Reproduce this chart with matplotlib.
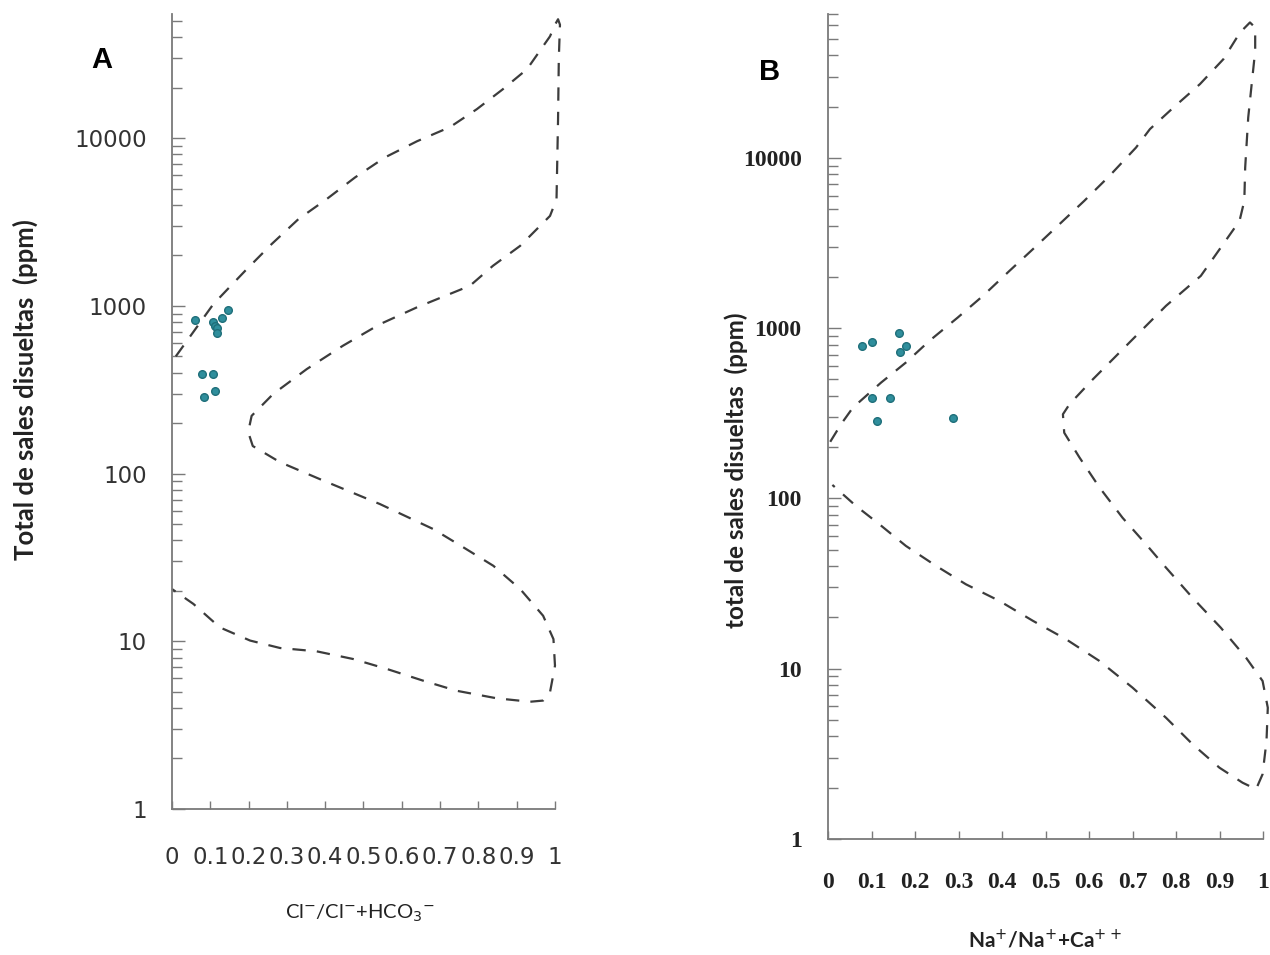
import numpy as np
import matplotlib
matplotlib.use("Agg")
import matplotlib.pyplot as plt
from matplotlib.ticker import FixedLocator, LogLocator, NullFormatter

plt.rcParams['font.family'] = ['Lato', 'DejaVu Sans']

# Panel A: Cl / (Cl + HCO3) vs total dissolved salts
a_ratio = [0.060, 0.108, 0.130, 0.147, 0.112, 0.118, 0.118, 0.078, 0.106, 0.112, 0.084]
a_tds = [823, 805, 842, 944, 754, 735, 686, 390, 392, 311, 286]

a_env_ratio = [0.01, 0.108, 0.191, 0.260, 0.330, 0.404, 0.478, 0.556, 0.640, 0.726,
               0.796, 0.864, 0.927, 0.987, 1.000, 1.008, 1.013, 1.010, 1.008, 1.004,
               0.987, 0.961,
               0.909, 0.838, 0.778, 0.639, 0.543, 0.446, 0.352, 0.264, 0.208, 0.199,
               0.211, 0.282, 0.386, 0.543, 0.682, 0.761, 0.839, 0.909, 0.969, 0.996,
               1.000, 0.987, 0.969, 0.935, 0.848, 0.743, 0.656, 0.561, 0.473, 0.378,
               0.282, 0.204, 0.125, 0.056, 0.0]
a_env_tds = [500, 1024, 1618, 2334, 3289, 4335, 5835, 7680, 9594, 11650,
             14900, 19600, 25800, 40500, 47500, 51200, 47500, 30000, 12970, 4330,
             3440, 3000,
             2280, 1734, 1318, 979, 778, 578, 420, 298, 221, 177,
             146, 117, 92.7, 65.8, 46.7, 36.3, 28.2, 20.5, 14.2, 10.3,
             7.15, 4.97, 4.43, 4.36, 4.57, 5.07, 5.82, 6.84, 7.84, 8.71,
             9.12, 10.1, 12.1, 16.7, 20.5]

# Panel B: Na / (Na + Ca) vs total dissolved salts
b_ratio = [0.078, 0.102, 0.163, 0.180, 0.166, 0.102, 0.143, 0.112, 0.287]
b_tds = [787, 830, 934, 787, 722, 388, 388, 283, 298]

b_env_ratio = [0.005, 0.030, 0.057, 0.122, 0.179, 0.233, 0.298, 0.356, 0.417, 0.471,
               0.532, 0.589, 0.647, 0.708, 0.740, 0.794, 0.855, 0.909, 0.947, 0.970,
               0.982, 0.982, 0.974, 0.966, 0.959, 0.957, 0.946, 0.911, 0.857, 0.777,
               0.708, 0.609, 0.555, 0.540, 0.543, 0.578, 0.624, 0.677, 0.731, 0.777,
               0.838, 0.903, 0.961, 0.999, 1.011, 1.008, 0.999, 0.984, 0.953, 0.900,
               0.838, 0.777, 0.700, 0.624, 0.547, 0.471, 0.394, 0.317, 0.248, 0.179,
               0.118, 0.064, 0.010]
b_env_tds = [215, 273, 341, 479, 628, 842, 1153, 1546, 2168, 2909,
             4078, 5590, 7834, 11490, 14750, 19740, 27100, 38000, 54400, 62400,
             58200, 42500, 27200, 17260, 8770, 5590, 4265, 3180, 2027, 1352,
             900, 501, 357, 312, 243, 174, 116, 77, 53.8, 39.2,
             26.1, 17.4, 11.6, 8.47, 5.90, 3.76, 2.40, 1.96, 2.14, 2.62,
             3.60, 5.15, 7.74, 11.1, 14.9, 19.1, 25.0, 31.3, 40.2, 52.6,
             70.5, 90.4, 120]

x_ticks = [0, 0.1, 0.2, 0.3, 0.4, 0.5, 0.6, 0.7, 0.8, 0.9, 1.0]
x_labels = ['0', '0.1', '0.2', '0.3', '0.4', '0.5', '0.6', '0.7', '0.8', '0.9', '1']
y_ticks = [1, 10, 100, 1000, 10000]
y_labels = ['1', '10', '100', '1000', '10000']

point_color = '#2f8e9c'
line_color = '#3c3c3c'
spine_color = '#7a7a7a'


def style_axis(ax, ytop, xpad, ypad, tick_font):
    ax.set_yscale('log')
    ax.set_xlim(0, 1)
    ax.set_ylim(1, ytop)
    for side in ('top', 'right'):
        ax.spines[side].set_visible(False)
    for side in ('left', 'bottom'):
        ax.spines[side].set_color(spine_color)
        ax.spines[side].set_linewidth(1.3)
    ax.xaxis.set_major_locator(FixedLocator(x_ticks))
    ax.set_xticklabels(x_labels, **tick_font)
    ax.yaxis.set_major_locator(FixedLocator(y_ticks))
    ax.set_yticklabels(y_labels, **tick_font)
    ax.yaxis.set_minor_locator(LogLocator(base=10, subs=np.arange(2, 10)))
    ax.yaxis.set_minor_formatter(NullFormatter())
    ax.tick_params(axis='x', which='major', direction='in', length=6, width=1,
                   color=spine_color, pad=xpad)
    ax.tick_params(axis='y', which='major', direction='in', length=9, width=1,
                   color=spine_color, pad=ypad)
    ax.tick_params(axis='y', which='minor', direction='in', length=7, width=1,
                   color=spine_color)


fig = plt.figure(figsize=(12.7, 9.55), dpi=100)

# --- panel A
ax1 = fig.add_axes([0.1354, 0.1529, 0.3016, 0.8324])
ax1.plot(a_env_ratio, a_env_tds, color=line_color, lw=1.6, dashes=(6, 5), clip_on=False)
ax1.plot(a_ratio, a_tds, 'o', color=point_color, ms=5.5, mec='#1f6f7a', clip_on=False)
style_axis(ax1, 55000, 27, 18,
           dict(family=['DejaVu Sans'], fontsize=16.5, color='#333333'))

fig.text(0.0803, 0.937, 'A', family='Liberation Sans', fontweight='bold',
         fontsize=21, ha='center', va='center')
fig.text(0.0197, 0.5916, 'Total de sales disueltas  (ppm)', rotation=90,
         fontweight='bold', fontsize=18.5, ha='center', va='center', color='#222222')
fig.text(0.2835, 0.044, r'Cl$^{-}$/Cl$^{-}$+HCO$_3$$^{-}$', fontsize=14.5,
         ha='center', va='center', color='#222222')

# --- panel B
ax2 = fig.add_axes([0.652, 0.1215, 0.3425, 0.8639])
ax2.plot(b_env_ratio, b_env_tds, color=line_color, lw=1.6, dashes=(6, 5), clip_on=False)
ax2.plot(b_ratio, b_tds, 'o', color=point_color, ms=5.5, mec='#1f6f7a', clip_on=False)
style_axis(ax2, 70000, 24, 19,
           dict(family=['Liberation Serif'], fontweight='bold', fontsize=17, color='#222222'))

fig.text(0.606, 0.925, 'B', family='Liberation Sans', fontweight='bold',
         fontsize=21, ha='center', va='center')
fig.text(0.580, 0.508, 'total de sales disueltas  (ppm)', rotation=90,
         fontweight='bold', fontsize=17.5, ha='center', va='center', color='#222222')
fig.text(0.823, 0.0157, r'Na$^{+}$/Na$^{+}$+Ca$^{++}$', fontweight='bold', fontsize=15,
         ha='center', va='center', color='#222222')

fig.savefig('out.png', dpi=100, facecolor='white')
